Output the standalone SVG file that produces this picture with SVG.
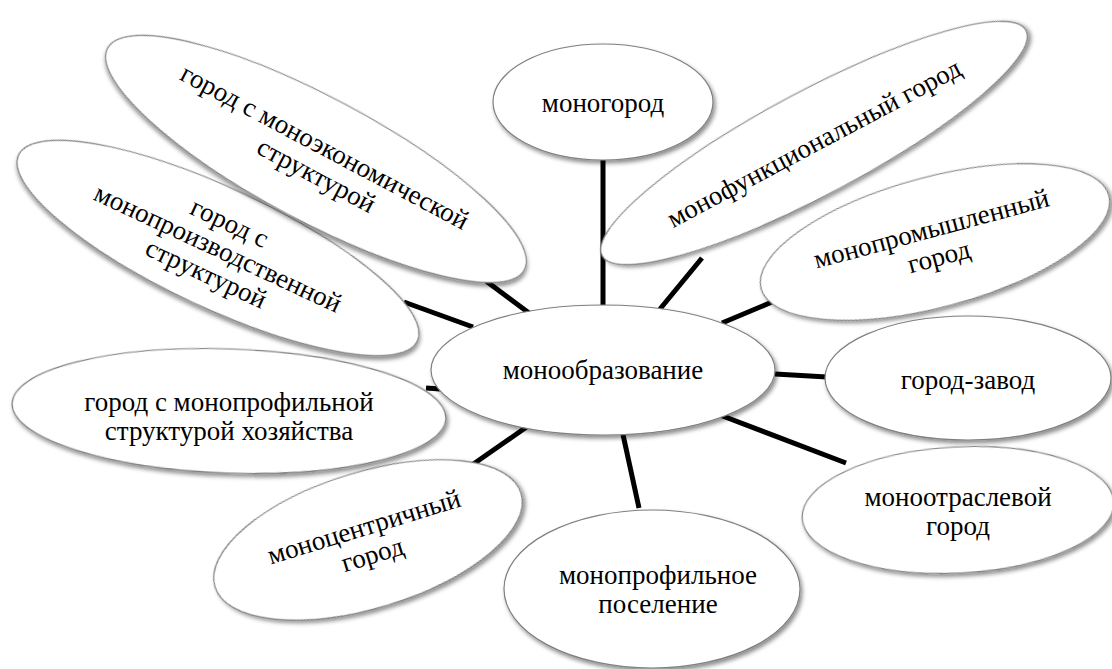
<svg xmlns="http://www.w3.org/2000/svg" width="1112" height="669" viewBox="0 0 1112 669">
<defs>
<filter id="sh" x="-10%" y="-20%" width="120%" height="150%">
<feDropShadow dx="2" dy="3" stdDeviation="2" flood-color="#000" flood-opacity="0.45"/>
</filter>
</defs>
<style>
.n ellipse{fill:#fff;stroke:#7f7f7f;stroke-width:1.2;filter:url(#sh)}
.n text{font-family:'Liberation Serif','Times New Roman',serif;font-size:27px;fill:#000;text-anchor:middle}
#connectors line{stroke:#000;stroke-width:5}
</style>
<rect width="1112" height="669" fill="#fff"/>
<g id="connectors">
<line x1="603" y1="160" x2="603" y2="306"/>
<line x1="660" y1="309" x2="702" y2="258"/>
<line x1="722" y1="323" x2="772" y2="302"/>
<line x1="775" y1="374" x2="827" y2="377"/>
<line x1="720" y1="415" x2="846" y2="463"/>
<line x1="622" y1="430" x2="639" y2="508"/>
<line x1="528" y1="426" x2="472" y2="465"/>
<line x1="426" y1="388" x2="440" y2="389"/>
<line x1="404" y1="302" x2="473" y2="327"/>
<line x1="486" y1="281" x2="529" y2="313"/>
</g>
<g id="n-monogorod" class="n">
<ellipse cx="603" cy="102" rx="110" ry="58"/>
<text x="603" y="112">моногород</text>
</g>
<g id="n-monoproizv" class="n" transform="translate(218 248) rotate(25)">
<ellipse cx="0" cy="0" rx="220" ry="60"/>
<text x="0" y="-19">город с</text>
<text x="0" y="9">монопроизводственной</text>
<text x="0" y="37">структурой</text>
</g>
<g id="n-monoekon" class="n" transform="translate(316 159) rotate(28)">
<ellipse cx="0" cy="0" rx="236" ry="62"/>
<text x="2" y="-6">город с моноэкономической</text>
<text x="8" y="23">структурой</text>
</g>
<g id="n-monofunk" class="n" transform="translate(814 143) rotate(-28)">
<ellipse cx="0" cy="0" rx="240" ry="52"/>
<text x="0" y="9">монофункциональный город</text>
</g>
<g id="n-monoprom" class="n" transform="translate(935 242) rotate(-15)">
<ellipse cx="0" cy="0" rx="180" ry="65"/>
<text x="0" y="-5">монопромышленный</text>
<text x="0" y="24">город</text>
</g>
<g id="n-gorodzavod" class="n">
<ellipse cx="968" cy="378" rx="143" ry="62"/>
<text x="968" y="389">город-завод</text>
</g>
<g id="n-monootrasl" class="n" transform="translate(958 510) rotate(-3)">
<ellipse cx="0" cy="0" rx="156" ry="63"/>
<text x="0" y="-4" transform="rotate(3)">моноотраслевой</text>
<text x="0" y="25" transform="rotate(3)">город</text>
</g>
<g id="n-monoposel" class="n">
<ellipse cx="652" cy="589" rx="148" ry="79"/>
<text x="658" y="584">монопрофильное</text>
<text x="658" y="613">поселение</text>
</g>
<g id="n-monocentr" class="n" transform="translate(368 540) rotate(-17)">
<ellipse cx="0" cy="0" rx="160" ry="68"/>
<text x="0" y="-5">моноцентричный</text>
<text x="0" y="24">город</text>
</g>
<g id="n-monoprof" class="n" transform="translate(229 411) rotate(2)">
<ellipse cx="0" cy="0" rx="217" ry="62"/>
<text x="0" y="0" transform="rotate(-2)">город с монопрофильной</text>
<text x="0" y="29" transform="rotate(-2)">структурой хозяйства</text>
</g>
<g id="n-center" class="n">
<ellipse cx="603" cy="370" rx="172" ry="65"/>
<text x="603" y="379">монообразование</text>
</g>
</svg>
